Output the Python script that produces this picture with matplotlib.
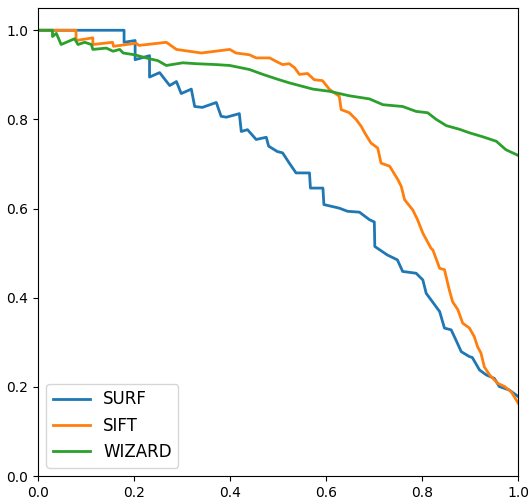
# Precision-Recall Kurven: SURF vs. SIFT vs. WIZARD
import matplotlib
matplotlib.use("Agg")
import matplotlib.pyplot as plt

# Werte (Recall, Precision)
surf_recall = [0, 0.179, 0.179, 0.202, 0.202, 0.232, 0.232, 0.253, 0.274, 0.288, 0.298, 0.319,
               0.326, 0.342, 0.371, 0.381, 0.392, 0.419, 0.423, 0.436, 0.454, 0.475, 0.480,
               0.498, 0.509, 0.523, 0.537, 0.565, 0.567, 0.593, 0.595, 0.627, 0.644, 0.669,
               0.690, 0.700, 0.701, 0.727, 0.748, 0.759, 0.787, 0.801, 0.808, 0.821, 0.836,
               0.846, 0.860, 0.870, 0.881, 0.898, 0.904, 0.919, 0.933, 0.950, 0.960, 0.981, 1.0]
surf_precision = [1.0, 1.0, 0.973, 0.977, 0.934, 0.943, 0.895, 0.905, 0.876, 0.885, 0.858, 0.868,
                  0.829, 0.827, 0.838, 0.807, 0.805, 0.813, 0.773, 0.777, 0.755, 0.760, 0.740,
                  0.728, 0.725, 0.702, 0.680, 0.680, 0.646, 0.646, 0.609, 0.601, 0.594, 0.592,
                  0.575, 0.570, 0.515, 0.496, 0.485, 0.459, 0.455, 0.440, 0.410, 0.391, 0.369,
                  0.332, 0.328, 0.305, 0.279, 0.268, 0.266, 0.238, 0.227, 0.219, 0.201, 0.193, 0.178]

sift_recall = [0, 0.079, 0.079, 0.114, 0.114, 0.155, 0.157, 0.204, 0.210, 0.267, 0.288, 0.340,
               0.399, 0.412, 0.440, 0.454, 0.482, 0.496, 0.509, 0.523, 0.534, 0.544, 0.561,
               0.575, 0.592, 0.607, 0.627, 0.631, 0.648, 0.662, 0.673, 0.680, 0.693, 0.707,
               0.714, 0.732, 0.749, 0.756, 0.763, 0.780, 0.790, 0.801, 0.818, 0.822, 0.836,
               0.846, 0.856, 0.863, 0.874, 0.884, 0.898, 0.908, 0.915, 0.922, 0.929, 0.940,
               0.947, 0.957, 0.971, 0.985, 1.0]
sift_precision = [1.0, 1.0, 0.977, 0.983, 0.968, 0.973, 0.964, 0.971, 0.966, 0.973, 0.957, 0.949,
                  0.957, 0.949, 0.945, 0.938, 0.938, 0.930, 0.923, 0.925, 0.916, 0.901, 0.903,
                  0.889, 0.887, 0.867, 0.852, 0.822, 0.815, 0.800, 0.784, 0.770, 0.747, 0.736,
                  0.702, 0.695, 0.665, 0.650, 0.620, 0.597, 0.575, 0.545, 0.511, 0.507, 0.466,
                  0.463, 0.418, 0.391, 0.373, 0.343, 0.332, 0.313, 0.290, 0.276, 0.245, 0.227,
                  0.219, 0.208, 0.201, 0.189, 0.163]

wizard_recall = [0, 0.030, 0.030, 0.038, 0.048, 0.076, 0.083, 0.097, 0.111, 0.114, 0.142, 0.156,
                 0.170, 0.177, 0.201, 0.211, 0.232, 0.249, 0.267, 0.301, 0.329, 0.371, 0.399,
                 0.440, 0.468, 0.499, 0.523, 0.551, 0.572, 0.607, 0.648, 0.690, 0.718, 0.759,
                 0.787, 0.811, 0.829, 0.850, 0.877, 0.898, 0.926, 0.954, 0.974, 1.0]
wizard_precision = [1.0, 1.0, 0.986, 0.993, 0.968, 0.981, 0.968, 0.973, 0.968, 0.957, 0.960, 0.953,
                    0.957, 0.949, 0.945, 0.942, 0.936, 0.932, 0.921, 0.927, 0.925, 0.923, 0.921,
                    0.912, 0.901, 0.890, 0.882, 0.874, 0.868, 0.863, 0.853, 0.846, 0.833, 0.829,
                    0.818, 0.815, 0.800, 0.786, 0.778, 0.770, 0.761, 0.751, 0.732, 0.719]

fig = plt.figure(figsize=(5.29, 4.98), dpi=100)
ax = fig.add_axes([0.072, 0.044, 0.908, 0.940])

ax.plot(surf_recall, surf_precision, lw=2, label="SURF")
ax.plot(sift_recall, sift_precision, lw=2, label="SIFT")
ax.plot(wizard_recall, wizard_precision, lw=2, label="WIZARD")

ax.set_xlim(0, 1)
ax.set_ylim(0, 1.05)
ax.legend(loc="lower left", fontsize=12, handlelength=2.2)

fig.savefig("out.png", dpi=100)
